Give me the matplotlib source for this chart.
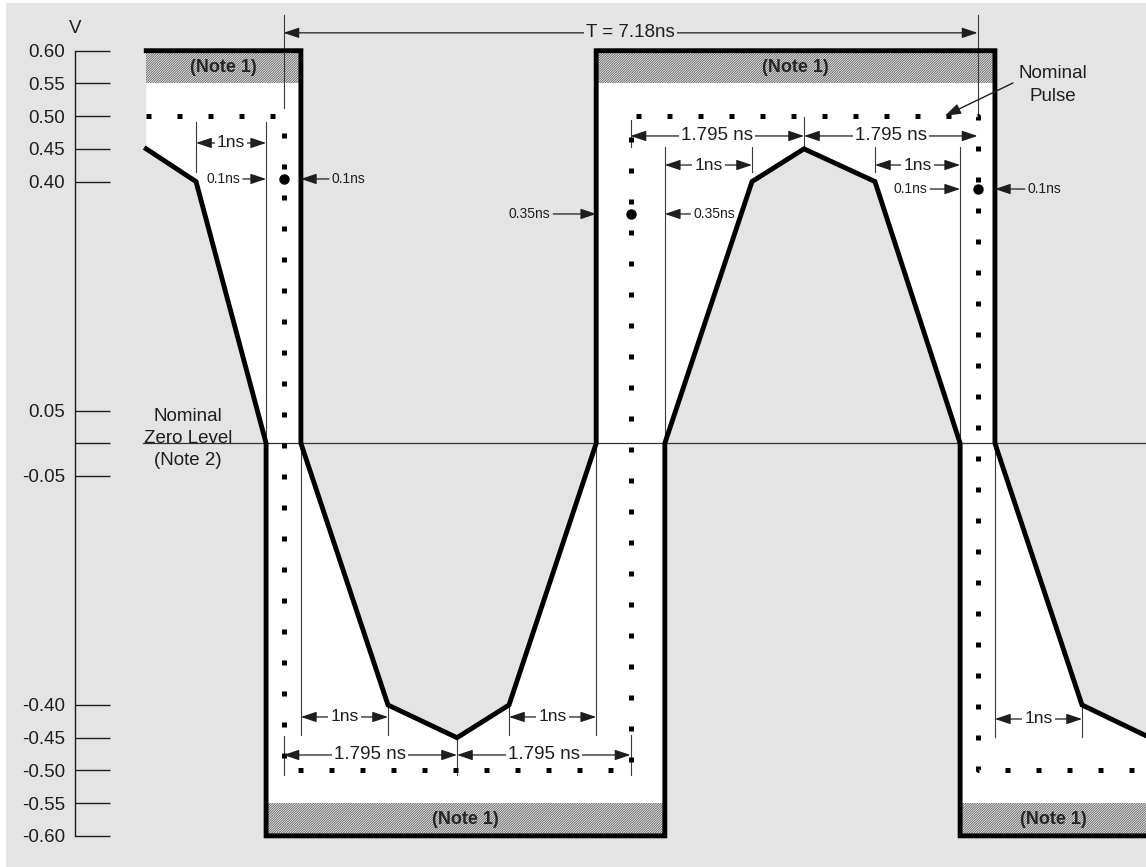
import numpy as np
import matplotlib
matplotlib.use('Agg')
import matplotlib.pyplot as plt
from matplotlib.patches import Rectangle

plt.rcParams['font.family'] = ['Liberation Sans', 'DejaVu Sans']
plt.rcParams['hatch.linewidth'] = 0.55
plt.rcParams['hatch.color'] = '#555555'

# Pulse template data (time in ns, level in V)
period = 7.18
half_bit = period / 4

# thick limit line that forms the inner edge of the positive mask / outer edge of the negative mask
limit1_t = [-1.42, -0.905, -0.18, -0.18, 3.945, 3.945, 4.847, 5.385, 6.119, 7.0, 7.0, 8.923]
limit1_v = [0.45, 0.40, 0.0, -0.60, -0.60, 0.0, 0.40, 0.45, 0.40, 0.0, -0.60, -0.60]
# thick limit line that forms the outer edge of the positive mask / inner edge of the negative mask
limit2_t = [-1.42, 0.18, 0.18, 1.081, 1.795, 2.333, 3.235, 3.235, 7.36, 7.36, 8.261, 8.923]
limit2_v = [0.60, 0.60, 0.0, -0.40, -0.45, -0.40, 0.0, 0.60, 0.60, 0.0, -0.40, -0.447]

# nominal pulse (dotted)
nominal_t = [-1.42, 0.0, 0.0, 3.59, 3.59, 7.18, 7.18, 8.923]
nominal_v = [0.5, 0.5, -0.5, -0.5, 0.5, 0.5, -0.5, -0.5]

tick_values = [0.60, 0.55, 0.50, 0.45, 0.40, 0.05, 0.0, -0.05, -0.40, -0.45, -0.50, -0.55, -0.60]
tick_labels = ['' if v == 0 else '%.2f' % v for v in tick_values]

INK = '#1e1e1e'
BG = '#e4e4e4'

fig = plt.figure(figsize=(11.46, 8.67), dpi=100, facecolor='white')
fig.patches.append(Rectangle((6 / 1146, 0), 1, 1 - 2.5 / 867, transform=fig.transFigure,
                             facecolor=BG, edgecolor='none', zorder=-10))
ax = fig.add_axes([0, 0, 1, 1])
ax.set_facecolor('none')
ax.set_xlim(-2.933, 8.923)
ax.set_ylim(-0.6476, 0.6775)

# voltage scale
for s in ['top', 'right', 'bottom']:
    ax.spines[s].set_visible(False)
ax.spines['left'].set_position(('data', -2.157))
ax.spines['left'].set_bounds(-0.6, 0.6)
ax.spines['left'].set_linewidth(1.0)
ax.spines['left'].set_color(INK)
ax.set_xticks([])
ax.set_yticks(tick_values)
ax.set_yticklabels(tick_labels)
ax.tick_params(axis='y', direction='in', length=25, width=1.0, pad=7,
               labelsize=13.5, labelcolor=INK, color=INK)
ax.text(-2.157, 0.6347, 'V', ha='center', va='center', fontsize=13.5, color=INK)

# white template area between the two limit lines
poly_t = np.r_[limit2_t, limit1_t[::-1]]
poly_v = np.r_[limit2_v, limit1_v[::-1]]
ax.fill(poly_t, poly_v, color='white', lw=0, zorder=1)


# hatched bands (Note 1)
def flat_runs(t, v, level):
    runs = []
    for i in range(len(t) - 1):
        if v[i] == level and v[i + 1] == level:
            runs.append((t[i], t[i + 1]))
    return runs


bands = [(a, b, 0.55, 0.60) for a, b in flat_runs(limit2_t, limit2_v, 0.60)]
bands += [(a, b, -0.60, -0.55) for a, b in flat_runs(limit1_t, limit1_v, -0.60)]
for a, b, lo, hi in bands:
    ax.fill_between([a, b], lo, hi, facecolor='#eeeeee', edgecolor='#555555',
                    hatch='//////////////', linewidth=0, zorder=1.5)
    ax.text((a + b) / 2, (lo + hi) / 2, '(Note 1)', ha='center', va='center',
            fontsize=13, fontweight='bold', color='#262626', zorder=5)

# nominal zero level
ax.plot([-1.454, limit1_t[-1]], [0, 0], color='#333333', lw=0.9, zorder=2.5)
ax.text(-0.988, 0.0073, 'Nominal\nZero Level\n(Note 2)', ha='center', va='center',
        fontsize=13.5, color=INK, linespacing=1.4, zorder=5)

# extension lines
ext = [(0.0, 0.5125, 0.6546), (7.18, 0.5003, 0.6546),
       (-0.905, 0.415, 0.491), (-0.18, 0.0, 0.491),
       (3.59, 0.453, 0.494), (5.385, 0.45, 0.4987),
       (3.945, 0.0, 0.453), (4.847, 0.415, 0.453), (6.119, 0.415, 0.453), (7.0, 0.0, 0.453),
       (0.18, -0.4455, 0.0), (1.081, -0.4455, -0.40), (2.333, -0.4455, -0.40), (3.235, -0.4455, 0.0),
       (0.0, -0.5069, -0.4474), (1.795, -0.5069, -0.45), (3.59, -0.5069, -0.4455),
       (7.36, -0.4486, 0.0), (8.261, -0.4486, -0.40)]
for t, v0, v1 in ext:
    ax.plot([t, t], [v0, v1], color='#3a3a3a', lw=0.8, zorder=2.6)

# nominal pulse, dotted
ax.plot(nominal_t, nominal_v, color='black', lw=3.6, dashes=(1, 5.2),
        dash_capstyle='butt', zorder=3)

# template limit lines
ax.plot(limit1_t, limit1_v, color='black', lw=3.5, solid_joinstyle='miter', zorder=4)
ax.plot(limit2_t, limit2_v, color='black', lw=3.5, solid_joinstyle='miter', zorder=4)

# reference dots
ax.plot([0.0, 7.18, 3.59], [0.404, 0.3886, 0.3505], 'o', ms=6.5, color='black', zorder=5)

HEAD = '-|>,head_length=0.95,head_width=0.32'
HEAD2 = '<|-|>,head_length=0.95,head_width=0.32'


def dim(t0, t1, v, label, size, bg='white'):
    ax.annotate('', xy=(t0, v), xytext=(t1, v),
                arrowprops=dict(arrowstyle=HEAD2, color=INK, lw=0.9,
                                shrinkA=0, shrinkB=0, mutation_scale=10),
                zorder=5)
    ax.text((t0 + t1) / 2, v, label, ha='center', va='center', fontsize=size, color=INK,
            bbox=dict(fc=bg, ec='none', pad=1.5), zorder=6)


def pointer(tail, tip, v, label, side):
    ax.annotate('', xy=(tip, v), xytext=(tail, v),
                arrowprops=dict(arrowstyle=HEAD, color=INK, lw=0.9,
                                shrinkA=0, shrinkB=0, mutation_scale=10),
                zorder=5)
    if side == 'left':
        ax.text(tail - 0.03, v, label, ha='right', va='center', fontsize=10, color=INK, zorder=6)
    else:
        ax.text(tail + 0.03, v, label, ha='left', va='center', fontsize=10, color=INK, zorder=6)


dim(0, period, 0.6273, 'T = %.2fns' % period, 13.5, bg=BG)
dim(-0.905, -0.18, 0.459, '1ns', 12.5)
dim(3.59, 3.59 + half_bit, 0.4697, '%.3f ns' % half_bit, 13.5)
dim(3.59 + half_bit, period, 0.4697, '%.3f ns' % half_bit, 13.5)
dim(3.945, 4.847, 0.4253, '1ns', 12.5)
dim(6.119, 7.0, 0.4253, '1ns', 12.5)
dim(0.18, 1.081, -0.4183, '1ns', 12.5)
dim(2.333, 3.235, -0.4183, '1ns', 12.5)
dim(0, half_bit, -0.4764, '%.3f ns' % half_bit, 13.5)
dim(half_bit, 3.59, -0.4764, '%.3f ns' % half_bit, 13.5)
dim(7.36, 8.261, -0.4214, '1ns', 12.5)

pointer(-0.42, -0.18, 0.404, '0.1ns', 'left')
pointer(0.47, 0.18, 0.404, '0.1ns', 'right')
pointer(6.69, 7.0, 0.3886, '0.1ns', 'left')
pointer(7.67, 7.36, 0.3886, '0.1ns', 'right')
pointer(2.79, 3.235, 0.3505, '0.35ns', 'left')
pointer(4.21, 3.945, 0.3505, '0.35ns', 'right')

# nominal pulse label
ax.text(7.961, 0.5476, 'Nominal\nPulse', ha='center', va='center', fontsize=13.5,
        color=INK, linespacing=1.4, zorder=6)
ax.annotate('', xy=(6.843, 0.5005), xytext=(7.547, 0.5507),
            arrowprops=dict(arrowstyle=HEAD, color=INK, lw=1.0,
                            shrinkA=0, shrinkB=0, mutation_scale=10),
            zorder=5)

fig.savefig('out.png', dpi=100, facecolor='white')
